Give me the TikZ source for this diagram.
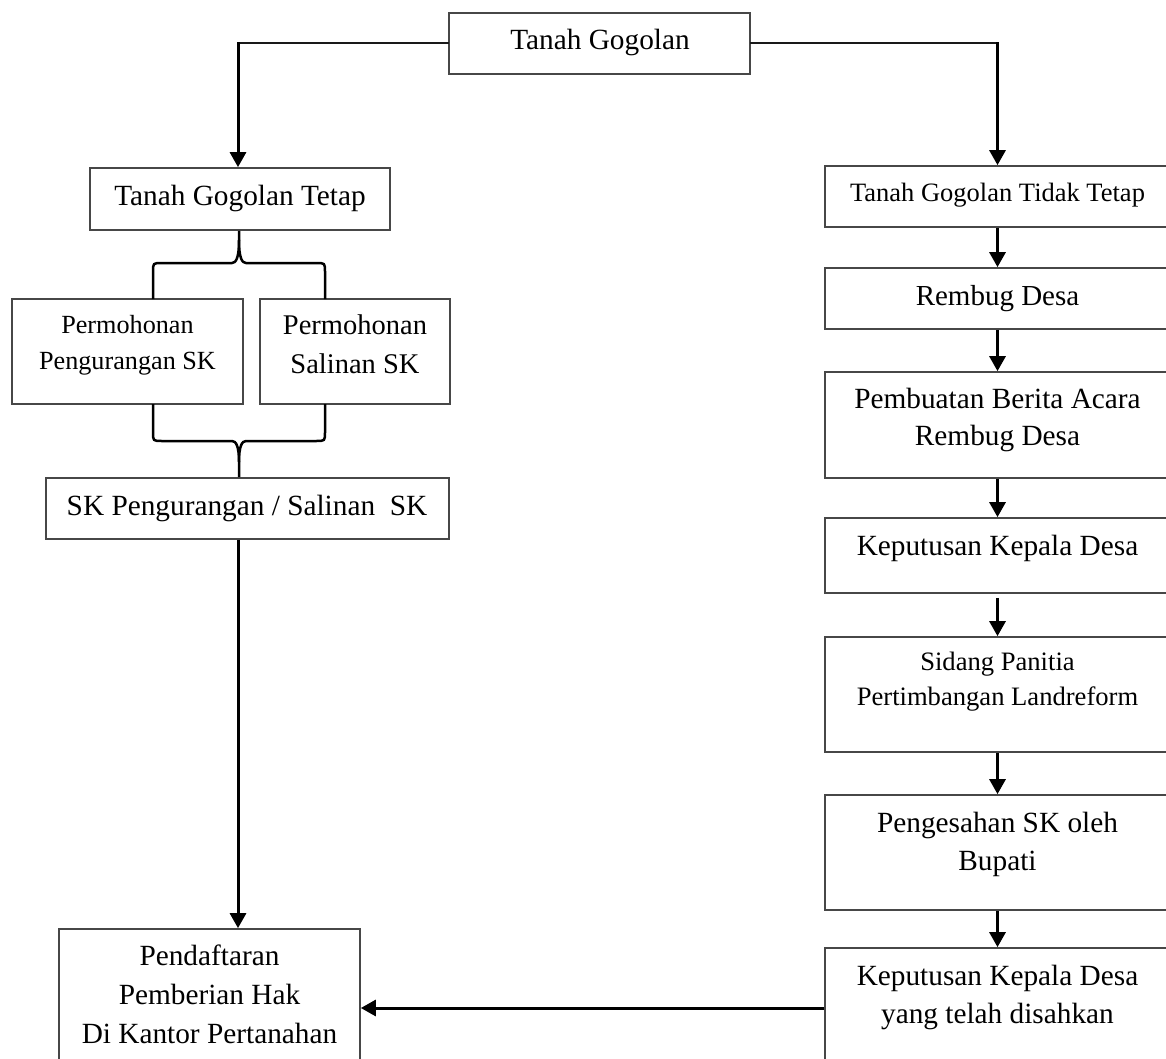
\documentclass[tikz,border=0pt]{standalone}
\usepackage{fontspec}
\setmainfont{Liberation Serif}
\usetikzlibrary{arrows.meta}
\begin{document}
\begin{tikzpicture}[x=1pt,y=-1pt,
  box/.style={draw=black!72, line width=1.7pt, inner sep=0pt},
  lbl/.style={inner sep=0pt, align=center, anchor=north},
  arr/.style={draw=black, line width=3pt, -{Triangle[width=16pt,length=15pt]}},
  hline/.style={draw=black!90, line width=2pt, line cap=rect},
  brace/.style={draw=black, line width=2.5pt},
  fbig/.style={font=\fontsize{29.3}{39}\selectfont},
]
\useasboundingbox (0,0) rectangle (1166,1059);
\clip (0,0) rectangle (1166,1059);

% ---- boxes ----
\node[box, minimum width=301pt, minimum height=61pt] (top)  at (599.5,43.5) {};
\node[box, minimum width=300pt, minimum height=62pt] (tgt)  at (240,199) {};
\node[box, minimum width=231pt, minimum height=105pt] (p1)  at (127.5,351.5) {};
\node[box, minimum width=190pt, minimum height=105pt] (p2)  at (355,351.5) {};
\node[box, minimum width=403pt, minimum height=61pt] (sk)   at (247.5,508.5) {};
\node[box, minimum width=301pt, minimum height=161pt] (pend) at (209.5,1009.5) {};

\node[box, minimum width=345pt, minimum height=61pt]  (r1) at (997.5,196.5) {};
\node[box, minimum width=345pt, minimum height=61pt]  (r2) at (997.5,298.5) {};
\node[box, minimum width=345pt, minimum height=106pt] (r3) at (997.5,425) {};
\node[box, minimum width=345pt, minimum height=75pt]  (r4) at (997.5,555.5) {};
\node[box, minimum width=345pt, minimum height=115pt] (r5) at (997.5,694.5) {};
\node[box, minimum width=345pt, minimum height=115pt] (r6) at (997.5,852.5) {};
\node[box, minimum width=345pt, minimum height=142pt] (r7) at (997.5,1019) {};

% ---- labels (first baseline minus strut height) ----
\node[lbl, fbig] (top-t) at (600,{49-27.3}) {\strut Tanah Gogolan};
\node[lbl, fbig] (tgt-t) at (240,{205-27.3}) {\strut Tanah Gogolan Tetap};
\node[lbl, font=\fontsize{26.2}{36.5}\selectfont] (p1-t) at (127.5,{333-0.7*36.5})
  {\strut Permohonan\\Pengurangan SK};
\node[lbl, font=\fontsize{28.5}{39}\selectfont] (p2-t) at (355,{334-27.3})
  {\strut Permohonan\\Salinan SK};
\node[lbl, fbig] (sk-t) at (247,{515-27.3}) {\strut SK Pengurangan / Salinan~~SK};
\node[lbl, fbig] (pend-t) at (209.5,{965-27.3})
  {\strut Pendaftaran\\Pemberian Hak\\Di Kantor Pertanahan};

\node[lbl, font=\fontsize{26.5}{36}\selectfont] (r1-t) at (997.5,{201-0.7*36}) {\strut Tanah Gogolan Tidak Tetap};
\node[lbl, font=\fontsize{29}{39}\selectfont] (r2-t) at (997.5,{305-27.3}) {\strut Rembug Desa};
\node[lbl, font=\fontsize{29.3}{37}\selectfont] (r3-t) at (997.5,{408-0.7*37})
  {\strut Pembuatan Berita Acara\\Rembug Desa};
\node[lbl, fbig] (r4-t) at (997.5,{555-27.3}) {\strut Keputusan Kepala Desa};
\node[lbl, font=\fontsize{26.6}{35}\selectfont] (r5-t) at (997.5,{670-0.7*35})
  {\strut Sidang Panitia\\Pertimbangan Landreform};
\node[lbl, font=\fontsize{29.3}{38}\selectfont] (r6-t) at (997.5,{832-0.7*38})
  {\strut Pengesahan SK oleh\\Bupati};
\node[lbl, font=\fontsize{29.3}{38}\selectfont] (r7-t) at (997.5,{985-0.7*38})
  {\strut Keputusan Kepala Desa\\yang telah disahkan};

% ---- split from the top box ----
\coordinate (cl) at (238,0 |- top.west);
\coordinate (cr) at (r1.north |- top.east);
\draw[hline] (top.west) -- (cl);
\draw[hline] (top.east) -- (cr);
\draw[arr] ([yshift=1pt]cl) -- (cl |- tgt.north);
\draw[arr] ([yshift=1pt]cr) -- (r1.north);

% ---- braces round the two requests ----
\coordinate (bx) at (239,0);
\draw[brace] (153,299) -- (153,272) .. controls (153,263) .. (162,263)
  -- (232,263) .. controls (236,263) and (239,258) .. (239,240) -- (bx |- tgt.south);
\draw[brace] (325,299) -- (325,272) .. controls (325,263) .. (316,263)
  -- (246,263) .. controls (242,263) and (239,258) .. (239,240);
\draw[brace] (153,404) -- (153,432) .. controls (153,441) .. (162,441)
  -- (232,441) .. controls (236,441) and (239,446) .. (239,462) -- (bx |- sk.north);
\draw[brace] (325,404) -- (325,432) .. controls (325,441) .. (316,441)
  -- (246,441) .. controls (242,441) and (239,446) .. (239,462);

% ---- left column ----
\coordinate (lx) at (238,0);
\draw[arr] (sk.south -| lx) -- (pend.north -| lx);

% ---- right column ----
\draw[arr] (r1.south) -- (r2.north);
\draw[arr] (r2.south) -- (r3.north);
\draw[arr] (r3.south) -- (r4.north);
\draw[arr] ([yshift=-4pt]r4.south) -- (r5.north);
\draw[arr] (r5.south) -- (r6.north);
\draw[arr] (r6.south) -- (r7.north);

% ---- back to registration ----
\coordinate (ay) at (0,1008);
\draw[arr] (r7.west |- ay) -- (pend.east |- ay);
\end{tikzpicture}
\end{document}
